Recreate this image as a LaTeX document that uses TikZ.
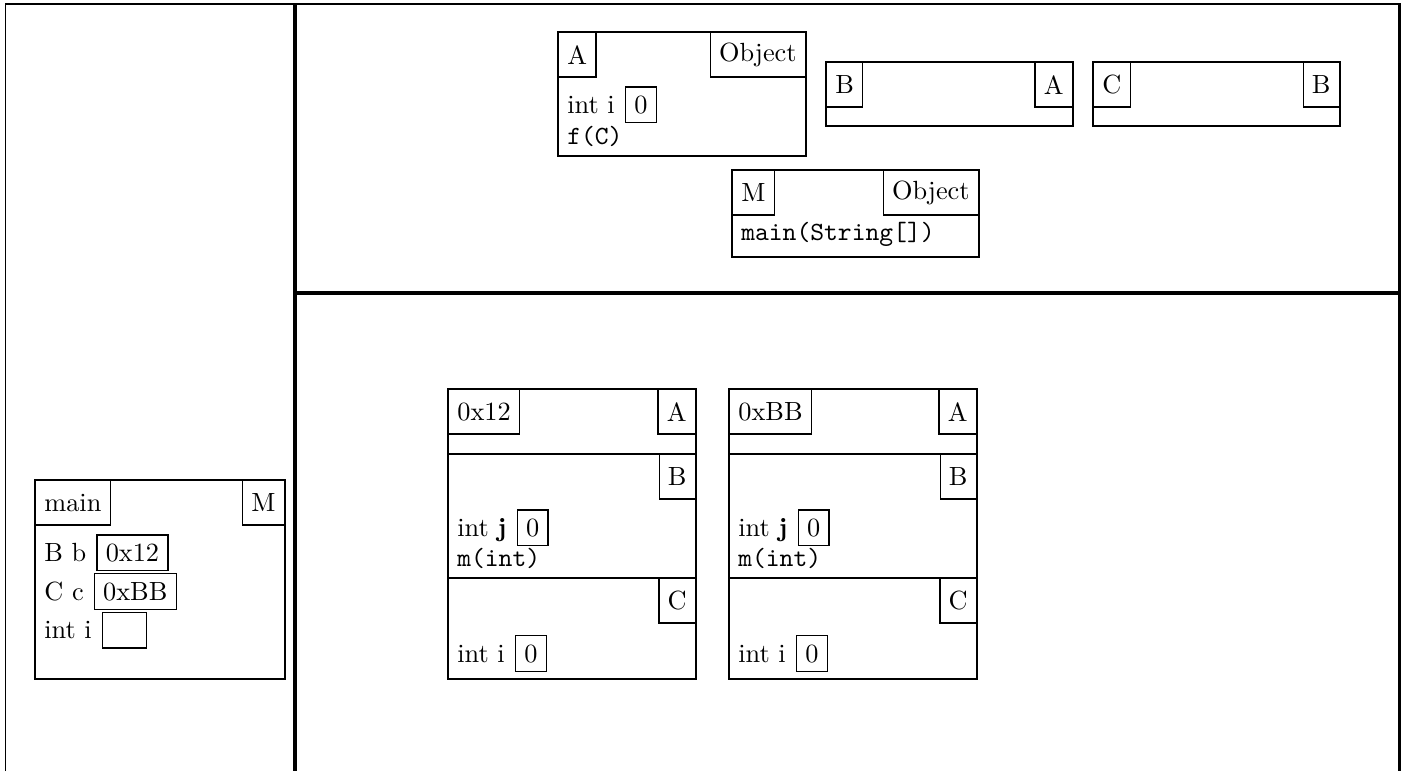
\documentclass[tikz,border=0pt]{standalone}
\begin{document}
\begin{tikzpicture}[x=0.3802pt,y=-0.3802pt,
  box/.style={draw,line width=0.5pt},
  lbl/.style={draw,line width=0.5pt,minimum height=16.9pt,inner sep=3.33pt},
  val/.style={draw,line width=0.5pt,inner sep=3.33pt},
  txt/.style={inner sep=3.33pt},
  thin frame/.style={line width=0.6pt},
  thick frame/.style={line width=1.45pt}]
\useasboundingbox (0,0) rectangle (1401,771);
\clip (0,0) rectangle (1401,771);
% frame
\draw[thin frame] (5.5,771) -- (5.5,4) -- (1401,4);
\draw[thick frame] (295,4) -- (295,771);
\draw[thick frame] (295,293) -- (1399.5,293);
\draw[thick frame] (1399.5,4) -- (1399.5,771);

% ---- main frame (stack) ----
\draw[box] (35,480) rectangle (285,679);
\node[lbl,anchor=north west] (mainname) at (35,480) {main};
\node[lbl,anchor=north east] (maincls) at (285,480) {M};
\node[txt,anchor=base west] (tb) at (35,561.2) {B b};
\node[val,anchor=base west,xshift=0.3pt] (vb) at (tb.base east) {0x12};
\node[txt,anchor=base west] (tc) at (35,600.2) {C c};
\node[val,anchor=base west,xshift=0.3pt] (vc) at (tc.base east) {0xBB};
\node[txt,anchor=base west] (ti) at (35,638.5) {int i};
\node[val,anchor=base west,xshift=0.3pt] (vi) at (ti.base east) {\phantom{00}};

% ---- class A ----
\draw[box] (558,32) rectangle (806,156);
\node[lbl,anchor=north west] (An) at (558,32) {A};
\node[lbl,anchor=north east] (As) at (806,32) {Object};
\node[txt,anchor=base west] (Ai) at (558,113.2) {int i};
\node[val,anchor=base west,xshift=0.3pt] (Aiv) at (Ai.base east) {0};
\node[txt,anchor=base west] (Af) at (558,145) {\texttt{f(C)}};

% ---- class B ----
\draw[box] (826,62) rectangle (1073,126);
\node[lbl,anchor=north west] (Bn) at (826,62) {B};
\node[lbl,anchor=north east] (Bs) at (1073,62) {A};

% ---- class C ----
\draw[box] (1093,62) rectangle (1340,126);
\node[lbl,anchor=north west] (Cn) at (1093,62) {C};
\node[lbl,anchor=north east] (Cs) at (1340,62) {B};

% ---- class M ----
\draw[box] (732,170) rectangle (979,257);
\node[lbl,anchor=north west] (Mn) at (732,170) {M};
\node[lbl,anchor=north east] (Ms) at (979,170) {Object};
\node[txt,anchor=base west] (Mm) at (732,240.5) {\texttt{main(String[])}};

% ---- objects ----
\foreach \k/\l/\r/\addr in {1/448/696/0x12, 2/729/977/0xBB} {
  \draw[box] (\l,389) rectangle (\r,454);
  \draw[box] (\l,454) rectangle (\r,578);
  \draw[box] (\l,578) rectangle (\r,679);
  \node[lbl,anchor=north west] (o\k addr) at (\l,389) {\addr};
  \node[lbl,anchor=north east] (o\k A) at (\r,389) {A};
  \node[lbl,anchor=north east] (o\k B) at (\r,454) {B};
  \node[txt,anchor=base west] (o\k j) at (\l,536.2) {int \textbf{j}};
  \node[val,anchor=base west,xshift=0.3pt] (o\k jv) at (o\k j.base east) {0};
  \node[txt,anchor=base west] (o\k m) at (\l,566) {\texttt{m(int)}};
  \node[lbl,anchor=north east] (o\k C) at (\r,578) {C};
  \node[txt,anchor=base west] (o\k i) at (\l,662) {int i};
  \node[val,anchor=base west,xshift=0.3pt] (o\k iv) at (o\k i.base east) {0};
}
\end{tikzpicture}
\end{document}
